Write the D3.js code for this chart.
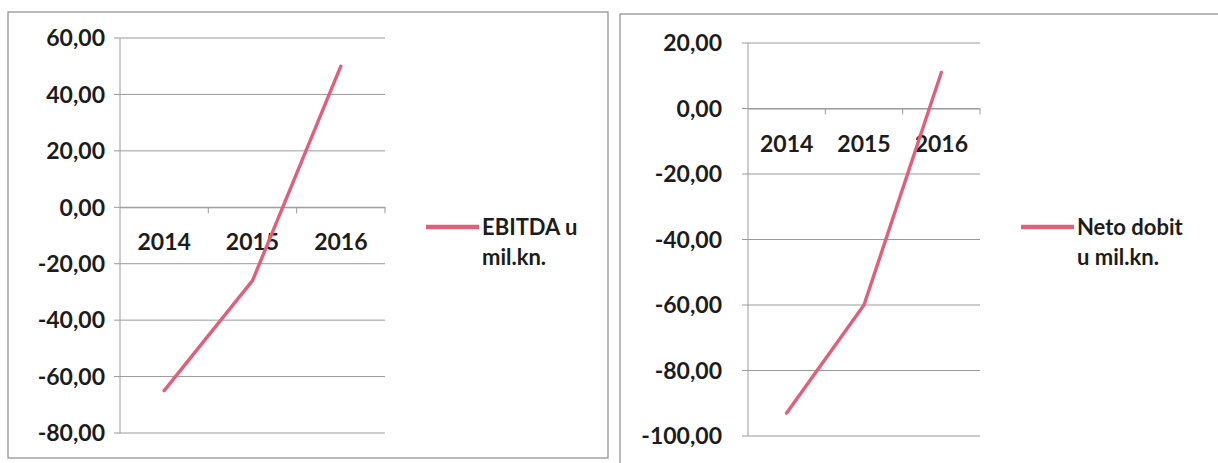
<!DOCTYPE html>
<html>
<head>
<meta charset="utf-8">
<script src="https://cdn.jsdelivr.net/npm/d3@7"></script>
<style>
  body { margin: 0; background: #fff; }
  text { font-family: Lato, "Open Sans", sans-serif; font-weight: 700; fill: #1c1c1c; }
</style>
</head>
<body>
<div id="viz"></div>
<script>
let svgWidth = 1218;
let svgHeight = 463;

let years = ["2014", "2015", "2016"];
let ebitda = [-65, -26, 50];
let netoDobit = [-93, -60, 11];
let ebitdaTicks = [60, 40, 20, 0, -20, -40, -60, -80];
let netoTicks = [20, 0, -20, -40, -60, -80, -100];

let locale = d3.formatLocale({ decimal: ",", thousands: ".", grouping: [3], currency: ["", " kn"], minus: "-" });
let fmt = locale.format(".2f");
let lineColor = "#e0607a";

let svg = d3.select("#viz")
  .append("svg")
    .attr("width", svgWidth)
    .attr("height", svgHeight);

function drawChart(opts){
  let g = svg.append("g");

  // outer frame of the chart
  g.append("rect")
    .attr("x", opts.box[0]).attr("y", opts.box[1])
    .attr("width", opts.box[2]).attr("height", opts.box[3])
    .attr("fill", "none").attr("stroke", "#8a8a8a").attr("stroke-width", 1.2);

  let x = d3.scaleBand().domain(years).range([opts.left, opts.right]);
  let y = d3.scaleLinear().domain(d3.extent(opts.ticks)).range([opts.bottom, opts.top]);

  // horizontal gridlines
  g.selectAll(".grid").data(opts.ticks).enter()
    .append("line")
      .attr("x1", opts.left - 6).attr("x2", opts.right)
      .attr("y1", d => y(d)).attr("y2", d => y(d))
      .attr("stroke", "#9a9a9a").attr("stroke-width", 1);

  // y axis line
  g.append("line")
    .attr("x1", opts.left).attr("x2", opts.left)
    .attr("y1", y(opts.ticks[0])).attr("y2", y(opts.ticks[opts.ticks.length - 1]))
    .attr("stroke", "#9a9a9a");

  g.selectAll(".ylab").data(opts.ticks).enter()
    .append("text")
      .attr("x", opts.left - opts.labelGap)
      .attr("y", d => y(d))
      .attr("dy", "0.36em")
      .attr("text-anchor", "end")
      .attr("font-size", 23)
      .text(d => fmt(d));

  // category axis sits on zero
  let xAxis = d3.axisBottom(x).tickSize(0).tickFormat("");
  g.append("g")
    .attr("transform", "translate(0," + y(0) + ")")
    .call(xAxis)
    .call(a => a.select(".domain").attr("stroke", "#9a9a9a"));

  let bounds = years.map(d => x(d) + x.bandwidth());
  g.selectAll(".xtick").data(bounds).enter()
    .append("line")
      .attr("x1", d => d).attr("x2", d => d)
      .attr("y1", y(0)).attr("y2", y(0) + 6)
      .attr("stroke", "#9a9a9a");

  g.selectAll(".xlab").data(years).enter()
    .append("text")
      .attr("x", d => x(d) + x.bandwidth() / 2)
      .attr("y", y(0) + 43)
      .attr("text-anchor", "middle")
      .attr("font-size", 23)
      .text(d => d);

  let line = d3.line()
    .x((d, i) => x(years[i]) + x.bandwidth() / 2)
    .y(d => y(d));

  g.append("path")
    .datum(opts.values)
    .attr("d", line)
    .attr("fill", "none")
    .attr("stroke", lineColor)
    .attr("stroke-width", 3.4)
    .attr("stroke-linecap", "round");

  // legend
  g.append("line")
    .attr("x1", opts.legend[0]).attr("x2", opts.legend[0] + 53)
    .attr("y1", opts.legend[1]).attr("y2", opts.legend[1])
    .attr("stroke", lineColor).attr("stroke-width", 4.5);

  let lt = g.append("text")
    .attr("x", opts.legend[0] + 56)
    .attr("y", opts.legend[1] + 8)
    .attr("font-size", 22);
  lt.selectAll("tspan").data(opts.label).enter()
    .append("tspan")
      .attr("x", opts.legend[0] + 56)
      .attr("dy", (d, i) => i === 0 ? 0 : 30)
      .text(d => d);
}

drawChart({
  box: [8, 12, 600, 446],
  left: 120, right: 385, top: 38, bottom: 433, labelGap: 15,
  ticks: ebitdaTicks, values: ebitda,
  legend: [426, 227], label: ["EBITDA u", "mil.kn."]
});

drawChart({
  box: [620, 14, 610, 460],
  left: 748, right: 980, top: 43, bottom: 436, labelGap: 26,
  ticks: netoTicks, values: netoDobit,
  legend: [1021, 227], label: ["Neto dobit", "u mil.kn."]
});
</script>
</body>
</html>
